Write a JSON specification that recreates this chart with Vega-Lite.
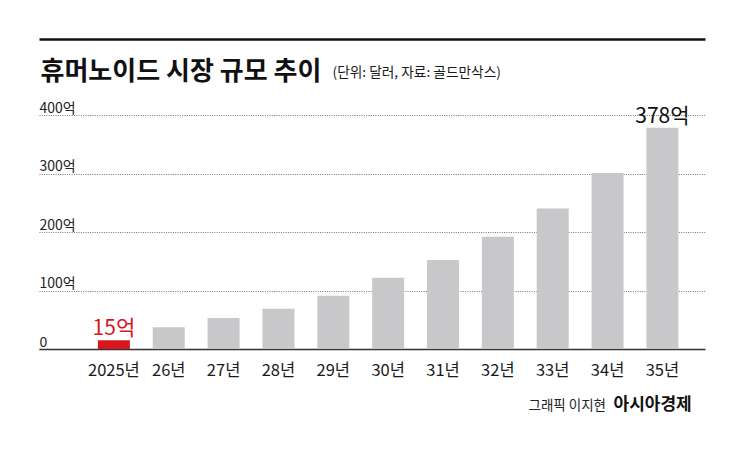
{
  "$schema": "https://vega.github.io/schema/vega-lite/v6.json",
  "width": 666,
  "height": 234,
  "autosize": {"type": "none"},
  "padding": {"left": 39, "top": 115, "right": 40, "bottom": 106},
  "background": "white",
  "config": {
    "view": {"stroke": null},
    "font": "Noto Sans CJK KR",
    "axis": {"labelFont": "Noto Sans CJK KR", "titleFont": "Noto Sans CJK KR"},
    "text": {"font": "Noto Sans CJK KR"}
  },
  "data": {
    "values": [
      {"year": "2025년", "value": 15, "label": "15억"},
      {"year": "26년", "value": 37},
      {"year": "27년", "value": 53},
      {"year": "28년", "value": 69},
      {"year": "29년", "value": 91},
      {"year": "30년", "value": 122},
      {"year": "31년", "value": 152},
      {"year": "32년", "value": 192},
      {"year": "33년", "value": 240},
      {"year": "34년", "value": 301},
      {"year": "35년", "value": 378, "label": "378억"}
    ]
  },
  "layer": [
    {
      "mark": {"type": "bar"},
      "encoding": {
        "x": {
          "field": "year",
          "type": "nominal",
          "sort": null,
          "scale": {
            "domain": ["2025년", "26년", "27년", "28년", "29년", "30년", "31년", "32년", "33년", "34년", "35년"],
            "paddingInner": 0.4166,
            "paddingOuter": 0.779,
            "align": 0.689
          },
          "axis": {
            "orient": "bottom",
            "ticks": false,
            "tickSize": 0,
            "domain": true,
            "domainColor": "#333333",
            "domainWidth": 1.5,
            "labelAngle": 0,
            "labelFontSize": 16.5,
            "labelColor": "#1a1a1a",
            "labelBaseline": "alphabetic",
            "labelPadding": 26,
            "grid": false,
            "title": "그래픽 이지현",
            "titleX": 489,
            "titleY": 60,
            "titleAlign": "left",
            "titleBaseline": "alphabetic",
            "titleFontSize": 13.5,
            "titleFontWeight": "normal",
            "titleColor": "#222222"
          }
        },
        "y": {
          "field": "value",
          "type": "quantitative",
          "scale": {"domain": [0, 400]},
          "axis": {
            "orient": "left",
            "values": [0, 100, 200, 300, 400],
            "labelExpr": "datum.value == 0 ? '0' : datum.value + '억'",
            "ticks": false,
            "tickSize": 0,
            "domain": false,
            "labelAlign": "left",
            "labelBaseline": "alphabetic",
            "labelPadding": 0,
            "labelOffset": -3,
            "labelFlush": false,
            "labelOverlap": false,
            "labelFontSize": 14,
            "labelColor": "#222222",
            "grid": true,
            "gridColor": "#777777",
            "gridDash": [1, 1.3],
            "gridWidth": 1,
            "title": "(단위: 달러, 자료: 골드만삭스)",
            "titleAngle": 0,
            "titleX": 293,
            "titleY": -39,
            "titleAlign": "left",
            "titleBaseline": "alphabetic",
            "titleFontSize": 13.7,
            "titleFontWeight": "normal",
            "titleColor": "#1a1a1a"
          }
        },
        "color": {
          "condition": {"test": "datum.year === '2025년'", "value": "#d7161e"},
          "value": "#c8c8ca"
        }
      }
    },
    {
      "transform": [{"filter": "datum.label != null"}],
      "mark": {"type": "text", "baseline": "alphabetic", "dy": -5, "fontSize": 21},
      "encoding": {
        "x": {
          "field": "year",
          "type": "nominal",
          "sort": null,
          "scale": {
            "domain": ["2025년", "26년", "27년", "28년", "29년", "30년", "31년", "32년", "33년", "34년", "35년"],
            "paddingInner": 0.4166,
            "paddingOuter": 0.779,
            "align": 0.689
          },
          "axis": {
            "orient": "top",
            "offset": 76,
            "labels": false,
            "ticks": false,
            "grid": false,
            "domain": true,
            "domainColor": "#111111",
            "domainWidth": 2.5,
            "title": "휴머노이드 시장 규모 추이",
            "titleX": 1,
            "titleY": 40,
            "titleAlign": "left",
            "titleBaseline": "alphabetic",
            "titleFontSize": 26,
            "titleFontWeight": "bold",
            "titleColor": "#111111"
          }
        },
        "y": {
          "field": "value",
          "type": "quantitative",
          "scale": {"domain": [0, 400]},
          "axis": {
            "orient": "right",
            "labels": false,
            "ticks": false,
            "grid": false,
            "domain": false,
            "title": "아시아경제",
            "titleAngle": 0,
            "titleX": -92,
            "titleY": 294,
            "titleAlign": "left",
            "titleBaseline": "alphabetic",
            "titleFontSize": 17,
            "titleFontWeight": "bold",
            "titleColor": "#111111"
          }
        },
        "text": {"field": "label"},
        "color": {
          "condition": {"test": "datum.year === '2025년'", "value": "#d7161e"},
          "value": "#111111"
        }
      }
    }
  ],
  "resolve": {"axis": {"x": "independent", "y": "independent"}}
}
